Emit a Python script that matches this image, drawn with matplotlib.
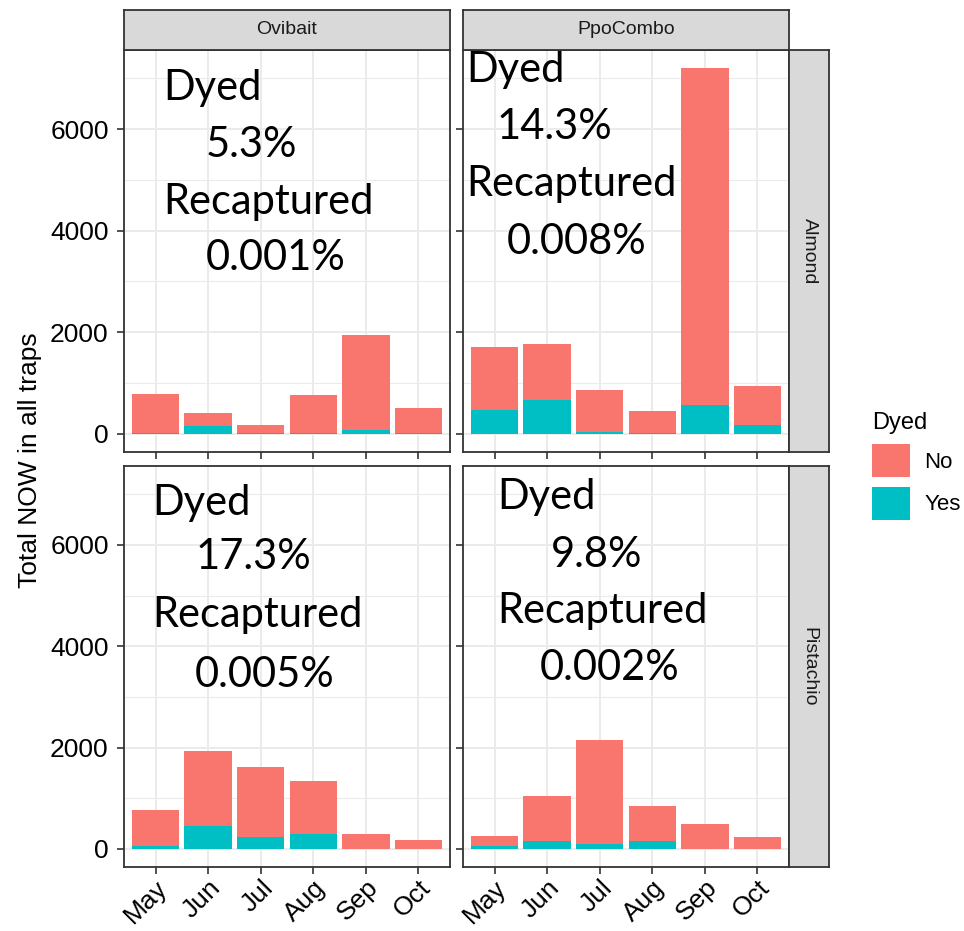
import numpy as np
import matplotlib
matplotlib.use("Agg")
import matplotlib.pyplot as plt
from matplotlib.patches import Patch

plt.rcParams['font.family'] = ['Liberation Sans', 'DejaVu Sans']

W, H = 964, 931

months = ["May", "Jun", "Jul", "Aug", "Sep", "Oct"]
baits = ["Ovibait", "PpoCombo"]
crops = ["Almond", "Pistachio"]

# moths caught per month, split by dye status
ovi_almond_no = [774, 266, 159, 759, 1875, 502]
ovi_almond_yes = [10, 150, 5, 5, 65, 5]
ppo_almond_no = [1252, 1116, 835, 436, 6643, 782]
ppo_almond_yes = [466, 655, 25, 10, 557, 163]
ovi_pist_no = [713, 1479, 1386, 1049, 280, 162]
ovi_pist_yes = [45, 448, 230, 290, 3, 2]
ppo_pist_no = [204, 905, 2066, 680, 476, 233]
ppo_pist_yes = [46, 145, 92, 158, 5, 5]

dyed_pct = [["5.3%", "14.3%"], ["17.3%", "9.8%"]]
recap_pct = [["0.001%", "0.008%"], ["0.005%", "0.002%"]]

panels = {
    (0, 0): (ovi_almond_no, ovi_almond_yes),
    (0, 1): (ppo_almond_no, ppo_almond_yes),
    (1, 0): (ovi_pist_no, ovi_pist_yes),
    (1, 1): (ppo_pist_no, ppo_pist_yes),
}

col_no = "#F8766D"
col_yes = "#00BFC4"
edge = "#333333"
grid = "#EBEBEB"

# shared y range, ggplot style 5% expansion
ymax = max(np.max(np.add(n, y)) for n, y in panels.values())
ylo, yhi = -0.05 * ymax, 1.05 * ymax


def px_rect(x0, y0, x1, y1):
    return [x0 / W, 1 - y1 / H, (x1 - x0) / W, (y1 - y0) / H]


fig = plt.figure(figsize=(W / 100, H / 100), dpi=100)

xs = [124, 463]
xe = [450, 789]
ys = [50, 466]
ye = [452, 867]

# text box layout in pixels: left x of each line, centre y of each line
note_x = {
    (0, 0): [163, 206, 163, 206],
    (0, 1): [466, 497, 466, 507],
    (1, 0): [152, 196, 152, 195],
    (1, 1): [497, 551, 497, 540],
}
note_y = {
    (0, 0): [88, 145, 202, 258],
    (0, 1): [70, 127, 184, 242],
    (1, 0): [503, 557, 615, 675],
    (1, 1): [497, 555, 611, 668],
}

for (r, c), (no, yes) in panels.items():
    ax = fig.add_axes(px_rect(xs[c], ys[r], xe[c], ye[r]))
    x = np.arange(1, len(months) + 1)
    ax.bar(x, yes, width=0.9, color=col_yes, zorder=2)
    ax.bar(x, no, width=0.9, bottom=yes, color=col_no, zorder=2)
    ax.set_xlim(0.4, len(months) + 0.6)
    ax.set_ylim(ylo, yhi)
    ax.set_yticks([0, 2000, 4000, 6000])
    ax.set_yticks([1000, 3000, 5000, 7000], minor=True)
    ax.set_xticks(x)
    ax.grid(True, which="major", color=grid, lw=1.4, zorder=0)
    ax.grid(True, which="minor", axis="y", color=grid, lw=0.8, zorder=0)
    ax.set_axisbelow(True)
    for s in ax.spines.values():
        s.set_color(edge)
        s.set_linewidth(1.3)
    ax.tick_params(which="major", length=5, color=edge, width=1.2,
                   labelsize=19)
    ax.tick_params(axis="y", pad=6)
    ax.tick_params(axis="x", pad=1)
    ax.tick_params(which="minor", length=0)
    if c == 0:
        ax.set_yticklabels(["0", "2000", "4000", "6000"])
    else:
        ax.set_yticklabels([])
    if r == 1:
        ax.set_xticklabels(months, rotation=45, ha="right", va="top",
                           rotation_mode="anchor")
    else:
        ax.set_xticklabels([])

    lines = ["Dyed", dyed_pct[r][c], "Recaptured", recap_pct[r][c]]
    for txt, tx, ty in zip(lines, note_x[(r, c)], note_y[(r, c)]):
        fig.text(tx / W, 1 - ty / H, txt, fontsize=30, family="Lato",
                 va="center", ha="left")

# facet strips
for c, name in enumerate(baits):
    sa = fig.add_axes(px_rect(xs[c], 10, xe[c], 50))
    sa.set_facecolor("#D9D9D9")
    sa.set_xticks([])
    sa.set_yticks([])
    for s in sa.spines.values():
        s.set_color(edge)
        s.set_linewidth(1.3)
    sa.text(0.5, 0.5, name, ha="center", va="center", fontsize=14,
            color="#1A1A1A", transform=sa.transAxes)

for r, name in enumerate(crops):
    sa = fig.add_axes(px_rect(789, ys[r], 829, ye[r]))
    sa.set_facecolor("#D9D9D9")
    sa.set_xticks([])
    sa.set_yticks([])
    for s in sa.spines.values():
        s.set_color(edge)
        s.set_linewidth(1.3)
    sa.text(0.5, 0.5, name, ha="center", va="center", fontsize=14,
            rotation=-90, color="#1A1A1A", transform=sa.transAxes)

fig.text(30 / W, 1 - 460 / H, "Total NOW in all traps", rotation=90,
         ha="center", va="center", fontsize=19)

handles = [Patch(facecolor=col_no, label="No"),
           Patch(facecolor=col_yes, label="Yes")]
fig.legend(handles=handles, title="Dyed", loc="upper left",
           bbox_to_anchor=(852 / W, 1 - 392 / H), frameon=False,
           fontsize=16, title_fontsize=17, handlelength=1.71,
           handleheight=1.9, labelspacing=0.45, handletextpad=0.65,
           alignment="left")

fig.savefig("out.png", dpi=100)
